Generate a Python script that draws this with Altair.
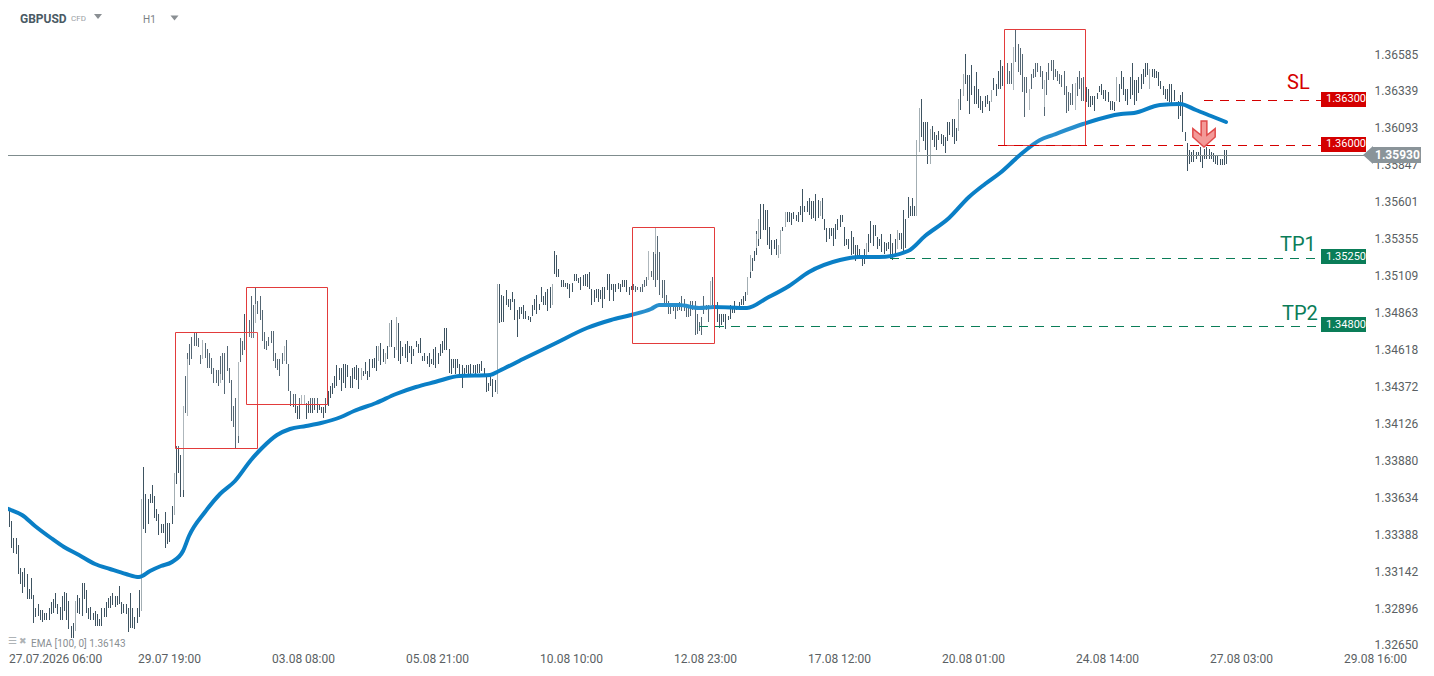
import altair as alt
import pandas as pd

# Prices are kept as pips above 1.3000 (353 means 1.3353)
high_pips = [
353,353,358,349,338,338,333,318,315,318, 314,304,311,300,291,294,290,290,288,288,
291,295,297,301,294,292,299,302,301,296, 279,281,296,300,298,308,308,303,291,292,
288,289,287,284,291,291,295,298,299,301, 299,299,306,295,294,294,291,301,291,285,
291,303,364,385,367,364,367,373,366,357, 354,347,347,355,348,348,359,381,399,399,
393,426,446,461,467,472,475,475,471,460, 470,468,464,461,458,451,450,450,459,461,
461,466,451,443,426,431,455,471,469,487, 486,483,499,493,505,496,499,490,475,469,
472,476,476,461,457,457,461,466,470,454, 436,434,434,426,431,433,433,428,429,431,
431,431,431,427,425,425,431,436,439,441, 446,453,451,451,454,454,453,446,451,452,
453,451,451,449,455,449,457,457,458,466, 466,468,464,461,466,481,483,465,485,481,
469,465,467,469,466,466,464,469,467,471, 459,461,459,461,457,464,465,461,467,469,
478,478,464,457,457,457,457,454,453,451, 453,453,454,453,453,454,454,456,451,446,
441,446,444,443,507,507,500,499,503,497, 497,502,497,490,492,492,493,489,486,485,
493,497,500,494,505,499,502,504,505,507, 529,526,517,510,510,508,508,507,508,514,
514,511,512,513,514,514,515,504,503,504, 504,503,505,505,514,514,507,507,507,508,
507,510,510,510,505,506,507,506,505,505, 507,510,512,529,516,528,544,539,528,510,
510,500,496,494,494,494,494,495,499,497, 494,493,496,496,496,487,482,485,499,493,
493,509,512,508,495,487,487,487,487,486, 493,492,496,492,495,497,499,502,512,526,
524,529,542,550,560,560,556,556,545,536, 536,537,533,543,545,555,555,555,554,555,
553,555,559,570,559,562,564,562,562,567, 563,562,564,550,544,544,544,544,547,550,
553,553,545,537,537,542,538,533,533,530, 526,530,534,540,549,546,546,538,537,540,
535,534,535,540,534,537,543,541,541,556, 550,565,559,564,559,603,624,630,615,615,
615,610,612,608,606,609,607,606,605,615, 615,617,617,611,630,637,647,660,646,646,
653,639,648,637,632,629,632,633,629,636, 644,640,649,656,652,646,654,649,654,665,
676,667,664,660,645,645,637,647,650,654, 654,652,649,643,648,654,656,656,650,649,
647,646,649,639,635,634,640,641,645,649, 644,645,638,637,632,632,632,634,639,640,
636,636,635,629,629,628,645,640,649,645, 637,637,645,654,643,643,645,647,650,654,
654,650,650,650,649,648,642,639,637,637, 640,640,636,628,629,633,635,608,601,596,
595,596,595,595,598,593,597,598,597,595, 594,592,592,590,590,596,596,
]
low_pips = [
347,345,345,331,328,327,314,307,301,305, 297,297,297,281,285,286,283,282,283,283,
283,287,288,291,287,283,283,289,283,277, 271,271,276,288,287,286,297,288,284,283,
283,279,279,279,279,285,285,291,291,293, 292,293,294,287,288,287,275,278,278,277,
281,285,289,344,341,347,361,361,351,349, 340,341,341,331,334,335,347,353,374,381,
365,365,421,419,453,457,466,466,465,454, 457,458,451,451,447,441,441,439,441,443,
434,449,441,416,412,398,401,455,460,463, 474,472,471,471,481,487,483,469,464,463,
466,468,456,451,450,446,454,456,454,436, 426,425,421,417,417,427,427,417,421,421,
421,423,421,423,421,418,421,426,431,434, 438,439,443,436,441,438,445,438,438,444,
443,437,443,446,447,443,445,451,451,449, 456,453,455,454,457,465,465,458,463,456,
454,459,458,455,461,454,459,465,461,461, 456,456,454,452,454,453,451,454,459,461,
463,463,448,447,451,447,451,446,438,447, 448,446,447,448,446,448,448,449,446,435,
436,439,432,435,434,481,482,482,493,492, 490,495,483,472,484,487,484,484,483,482,
486,490,487,490,495,493,493,489,491,493, 514,512,512,505,505,505,504,498,502,509,
509,508,503,506,506,505,504,493,495,498, 495,497,491,497,503,496,503,496,502,504,
502,505,505,502,500,503,503,502,503,502, 502,505,506,510,512,510,505,510,500,498,
494,493,487,487,489,484,489,490,489,489, 485,485,486,490,473,474,476,473,487,490,
482,493,492,482,482,478,480,482,477,483, 484,488,488,490,491,493,493,496,500,511,
516,522,526,532,537,543,543,533,530,526, 530,526,524,527,542,545,548,548,546,550,
549,548,553,548,555,555,553,550,551,549, 551,552,550,543,535,537,539,532,537,543,
545,548,532,533,530,526,527,522,524,524, 519,520,524,528,534,532,539,530,532,528,
527,529,530,526,523,527,530,536,530,529, 531,551,552,552,552,552,595,605,602,596,
587,587,603,598,596,603,600,599,594,602, 606,605,600,602,609,623,632,640,629,620,
633,627,627,624,623,621,625,627,622,628, 636,632,637,637,639,639,640,640,640,636,
655,648,646,635,618,634,623,637,644,645, 648,645,637,619,633,643,649,643,645,642,
640,638,633,621,622,626,626,623,632,637, 629,629,628,625,625,626,622,630,635,633,
630,629,628,623,623,622,629,628,637,633, 629,626,630,633,626,629,634,637,640,645,
646,637,645,644,644,639,637,633,630,629, 628,627,629,626,617,619,608,602,582,587,
588,588,590,592,588,584,590,590,590,590, 588,587,586,586,586,586,587,
]
assert len(high_pips) == len(low_pips) == 557, (len(high_pips), len(low_pips))

up_index = [32,62,77,81,83,90,98,106,114,127,135,136,162,170,173,175,178,224,249,293,296,321,
            338,339,342,343,352,353,355,371,392,406,415,416,421,434,436,449,459,466,473,487,506,521]
up_open = [276,289,353,370,419,457,441,406,481,456,427,427,443,456,454,465,463,434,493,510,527,493,
           500,515,531,537,524,527,545,552,524,530,552,595,587,609,632,628,636,623,625,623,629,637]
up_close = [296,364,381,426,457,470,447,455,494,466,433,433,451,466,461,481,485,507,507,529,544,509,
            512,526,540,550,533,543,555,562,534,543,603,624,610,630,647,636,665,637,643,641,645,650]

ema_index = [0,3,8,14,21,27,34,41,48,55,61,66,71,76,81,84,91,98,105,112,117,124,130,137,144,153,159,
             169,178,187,196,207,221,225,236,250,265,276,285,294,298,307,316,323,338,347,357,366,380,
             389,398,411,419,430,439,446,453,462,471,477,491,508,514,526,535,542,549,556]
ema_pips = [358,356.7,353.3,346,338,332,326.7,320.7,317.3,314,312,316,319.3,322,329.3,339.3,355.3,367.3,
            376,390,398,406.7,410.7,412.7,414.7,418.7,422.7,428,434,438.7,442,446,446.7,449.3,457.3,467.3,
            478,483.3,486.7,490.7,492.7,492.7,491.3,492,491.3,498,506,514.7,523.3,525.3,525.3,529.3,538.7,
            550.7,564.7,573.3,580.7,592.7,602.7,606,613.3,620,620.7,626,626.7,622.7,618.7,614.7]

box_left = [77.7,110.0,285.7,455.0]
box_right = [115.0,146.8,323.0,491.9]
box_top = [475.3,504.7,545.3,676.7]
box_bottom = [398.0,427.3,468.0,599.3]

level_price = [1.3630,1.3600,1.3525,1.3480]
level_start = [546,452,403,316]
level_end = [599,599,599,599]
level_color = ["#d40000","#d40000","#0a7d58","#0a7d58"]

current_price = 1.3593
y_ticks = [1.36585,1.36339,1.36093,1.35847,1.35601,1.35355,1.35109,1.34863,1.34618,1.34372,
           1.34126,1.33880,1.33634,1.33388,1.33142,1.32896,1.32650]
x_tick_labels = ["27.07.2026 06:00","29.07 19:00","03.08 08:00","05.08 21:00","10.08 10:00","12.08 23:00",
                 "17.08 12:00","20.08 01:00","24.08 14:00","27.08 03:00","29.08 16:00"]

def price(p):
    return 1.3 + p / 10000.0

DARK = "#3e5361"
GRAY = "#a3aeb3"
xs = alt.Scale(domain=[1.502, 619.6], round=True, nice=False, zero=False)
ys = alt.Scale(domain=[1.32633, 1.36908], round=True, nice=False, zero=False)
X = alt.X("i:Q", scale=xs, title=None)
Y = alt.Y("p:Q", scale=ys, title=None)

bars = pd.DataFrame({"i": range(len(high_pips)),
                     "p": [price(v) for v in high_pips],
                     "p2": [price(v) for v in low_pips]})
tick_values = [2.2] + [61 * k for k in range(1, 11)]
label_expr = "[" + ",".join("'%s'" % s for s in x_tick_labels) + "][round(datum.value/61)]"
dark_layer = alt.Chart(bars).mark_rule(color=DARK, strokeWidth=1, xOffset=0.5).encode(
    x=alt.X("i:Q", scale=xs, title=None, axis=alt.Axis(values=tick_values, labelExpr=label_expr, domain=False,
            ticks=False, grid=False, labelAlign="left", labelFlush=False, labelOverlap=False, labelPadding=3,
            labelOffset=-1.5, labelFont="Roboto", labelFontSize=12, labelColor="#5a5f63")),
    y=alt.Y("p:Q", scale=ys, title=None, axis=alt.Axis(orient="right", values=y_ticks, format=".5f", domain=False,
            ticks=False, grid=False, labelPadding=8, labelOffset=-2.5, labelOverlap=False, labelAlign="left",
            labelFont="Roboto", labelFontSize=12, labelColor="#5a5f63")),
    y2="p2:Q")

ups = pd.DataFrame({"i": up_index, "p": [price(v) for v in up_close], "p2": [price(v) for v in up_open]})
gray_layer = alt.Chart(ups).mark_rule(color=GRAY, strokeWidth=1, xOffset=0.5).encode(x=X, y=Y, y2="p2:Q")

ema = pd.DataFrame({"i": ema_index, "p": [price(v) for v in ema_pips]})
ema_layer = alt.Chart(ema).mark_line(color="#0a7fc6", strokeWidth=4, strokeCap="round", strokeJoin="round",
                                     interpolate="monotone").encode(x=X, y=Y)

current = pd.DataFrame({"p": [current_price]})
current_layer = alt.Chart(current).mark_rule(color="#7f8c8d", strokeWidth=1, yOffset=0.5).encode(
    x=alt.value(0), x2=alt.value(1360), y=Y)

boxes = pd.DataFrame({"i": box_left, "i2": box_right,
                      "p": [price(v) for v in box_top], "p2": [price(v) for v in box_bottom]})
box_layer = alt.Chart(boxes).mark_rect(fill="#ffffff", fillOpacity=0.12, stroke="#e23b3b", strokeWidth=1,
                                       xOffset=0.5, x2Offset=0.5, yOffset=0.5, y2Offset=0.5).encode(
    x=X, x2="i2:Q", y=Y, y2="p2:Q")

levels = pd.DataFrame({"i": level_start, "i2": level_end, "p": level_price, "c": level_color,
                       "lab": ["%.5f" % v for v in level_price],
                       "p_top": [v + 0.0005 for v in level_price], "p_bot": [v - 0.0005 for v in level_price]})
level_layer = alt.Chart(levels).mark_rule(strokeDash=[9, 7], strokeWidth=1, yOffset=1.5).encode(
    x=X, x2="i2:Q", y=Y, color=alt.Color("c:N", scale=None))
tag_layer = alt.Chart(levels).mark_rect().encode(
    x=alt.value(1321 - 8), x2=alt.value(1366 - 8),
    y=alt.Y("p_top:Q", scale=ys, title=None), y2="p_bot:Q", color=alt.Color("c:N", scale=None))
tag_text = alt.Chart(levels).mark_text(align="left", baseline="middle", font="Roboto", fontSize=11, color="#ffffff").encode(
    x=alt.value(1326 - 8), y=Y, text="lab:N")

cur_tag = alt.Chart(pd.DataFrame({"p": [current_price], "pt": [current_price + 0.00055], "pb": [current_price - 0.00057]}))
cur_rect = cur_tag.mark_rect(color="#8a9499").encode(
    x=alt.value(1372 - 8), x2=alt.value(1421 - 8), y=alt.Y("pt:Q", scale=ys, title=None), y2="pb:Q")
cur_tip = cur_tag.mark_point(shape="M0.55,-1L0.55,1L-0.55,0Z", filled=True, color="#8a9499", size=324, opacity=1).encode(
    x=alt.value(1368 - 8), y=Y)
cur_text = alt.Chart(pd.DataFrame({"p": [current_price], "t": ["%.5f" % current_price]})).mark_text(
    align="left", baseline="middle", font="Roboto", fontSize=12, fontWeight="bold", color="#ffffff").encode(
    x=alt.value(1375 - 8), y=Y, text="t:N")

ARROW = "M-0.22,-1L0.22,-1L0.22,0.1L0.86,-0.41L0.86,0.23L0,1L-0.86,0.23L-0.86,-0.41L-0.22,0.1Z"
arrow_layer = alt.Chart(pd.DataFrame({"i": [546], "p": [price(606.7)]})).mark_point(
    shape=ARROW, filled=True, fill="#f39a98", stroke="#e04a4a", strokeWidth=1.5, size=676, opacity=1).encode(
    x=X, y=Y)

def label(text, x, y, size, color, weight="normal", font="Roboto"):
    return alt.Chart(pd.DataFrame({"t": [text]})).mark_text(
        align="left", baseline="middle", font=font, fontSize=size, fontWeight=weight, color=color).encode(
        x=alt.value(x - 8), y=alt.value(y - 8), text="t:N")

def caret(x, y):
    return alt.Chart(pd.DataFrame({"t": ["v"]})).mark_point(
        shape="M-1,-0.6L1,-0.6L0,0.6Z", filled=True, color="#8a8f93", size=64, opacity=1).encode(
        x=alt.value(x - 8), y=alt.value(y - 8))

texts = [
    label("GBPUSD", 20, 18.5, 12, "#4a5a64", "bold"),
    label("CFD", 71, 19, 8, "#9aa0a4"),
    label("H1", 143, 20, 10, "#7a8084"),
    caret(98, 16.5), caret(174.5, 18),
    label("SL", 1287, 83, 20, "#d40000"),
    label("TP1", 1280, 245, 20, "#0a7d58"),
    label("TP2", 1282, 314, 20, "#0a7d58"),
    label("\u2630", 8, 641, 10, "#aeb3b6", font="DejaVu Sans"),
    label("\u2716", 19, 641, 9, "#aeb3b6", font="DejaVu Sans"),
    label("EMA [100, 0] 1.36143", 31, 643.5, 10, "#8a8f93"),
]

chart = alt.layer(
    dark_layer, gray_layer, current_layer, ema_layer, box_layer, level_layer,
    tag_layer, tag_text, cur_rect, cur_tip, cur_text, arrow_layer, *texts
).properties(
    width=1358, height=642,
    padding={"left": 0, "top": 0, "right": 60, "bottom": 18},
    autosize=alt.AutoSizeParams(type="none"),
    background="#ffffff",
).configure_view(stroke=None)

chart.save("out.html", embed_options={"renderer": "svg", "actions": False})
